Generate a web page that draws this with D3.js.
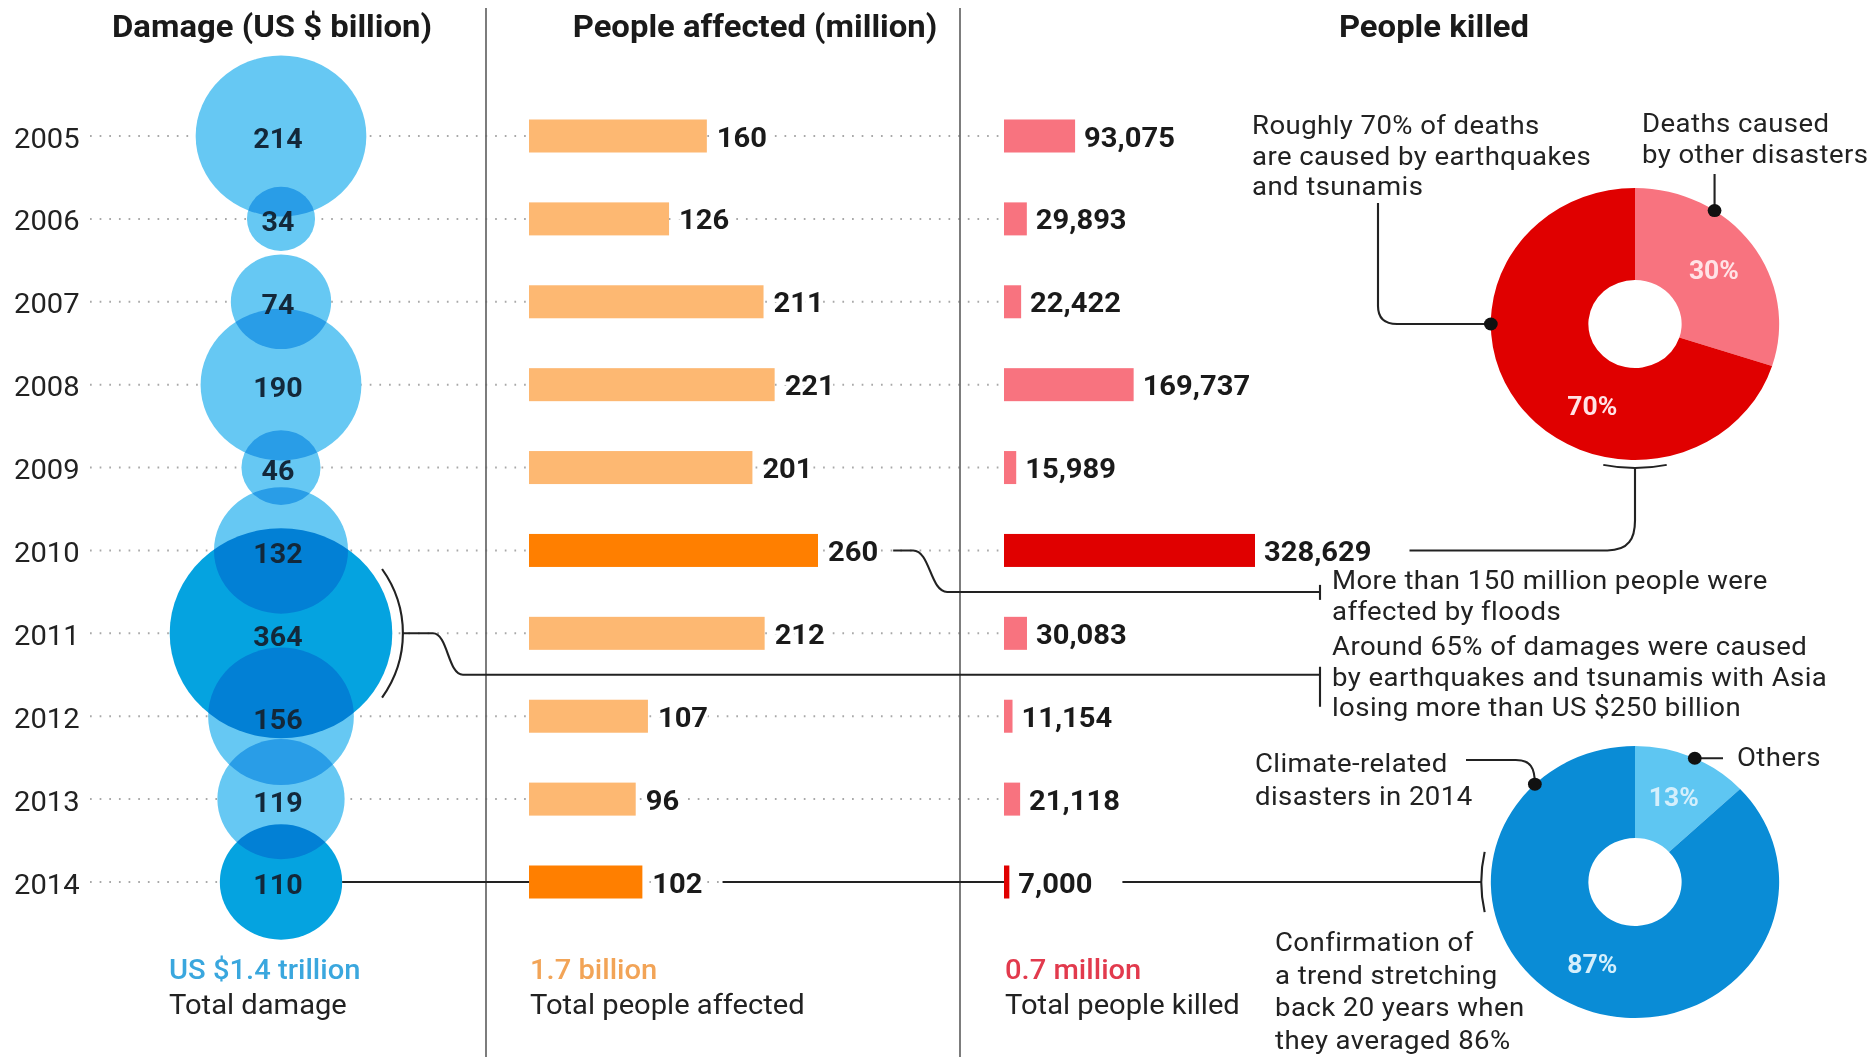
<!DOCTYPE html>
<html>
<head>
<meta charset="utf-8">
<script src="https://cdn.jsdelivr.net/npm/d3@7"></script>
<style>
  html, body { margin: 0; padding: 0; background: #fff; }
  svg { display: block; font-family: Roboto, "Noto Sans", sans-serif; }
</style>
</head>
<body>
<svg id="chart" width="1874" height="1057"></svg>
<script>
// ---- data ----
const years = [2005, 2006, 2007, 2008, 2009, 2010, 2011, 2012, 2013, 2014];
const damage = [214, 34, 74, 190, 46, 132, 364, 156, 119, 110];            // US $ billion
const affected = [160, 126, 211, 221, 201, 260, 212, 107, 96, 102];         // million people
const killed = [93075, 29893, 22422, 169737, 15989, 328629, 30083, 11154, 21118, 7000];
const damageHighlight = [2011, 2014];
const affectedHighlight = [2010, 2014];
const killedHighlight = [2010, 2014];

const deathShares = [30, 70];            // other disasters, earthquakes & tsunamis
const climateShares = [13, 87];          // others, climate-related (2014)

const columnTitles = ["Damage (US $ billion)", "People affected (million)", "People killed"];
const totalValues = ["US $1.4 trillion", "1.7 billion", "0.7 million"];
const totalLabels = ["Total damage", "Total people affected", "Total people killed"];

const notes = {
  deaths70: ["Roughly 70% of deaths", "are caused by earthquakes", "and tsunamis"],
  deaths30: ["Deaths caused", "by other disasters"],
  floods: ["More than 150 million people were", "affected by floods"],
  quakes: ["Around 65% of damages were caused", "by earthquakes and tsunamis with Asia", "losing more than US $250 billion"],
  climate: ["Climate-related", "disasters in 2014"],
  others: ["Others"],
  trend: ["Confirmation of", "a trend stretching", "back 20 years when", "they averaged 86%"]
};

// ---- layout ----
const W = 1874, H = 1057;
const SX = 1.06;                 // the whole graphic is drawn slightly wide
const X = v => v / SX;           // page px -> drawing units
const INK = "#222";
const TXT = 27.5;                // label text size
const NOTE = 26;                 // annotation text size

const svg = d3.select("#chart");
svg.append("rect").attr("width", W).attr("height", H).attr("fill", "#fff");
const root = svg.append("g").attr("transform", `scale(${SX},1)`);

const y = d3.scalePoint().domain(years).range([136, 882]);
const rScale = d3.scaleSqrt().domain([0, 364]).range([0, 105]);
const xAff = d3.scaleLinear().domain([0, 260]).range([0, X(289)]);
const xKill = d3.scaleLinear().domain([0, 328629]).range([0, X(251)]);

const bubbleX = X(281);
const affX0 = X(529);
const killX0 = X(1004);
const barH = 33;

const rows = years.map((yr, i) => ({
  year: yr, damage: damage[i], affected: affected[i], killed: killed[i]
}));

// dotted row guides
root.append("g").selectAll("line").data(rows).join("line")
  .attr("x1", X(90)).attr("x2", X(1000))
  .attr("y1", d => y(d.year)).attr("y2", d => y(d.year))
  .attr("stroke", "#a8a8a8").attr("stroke-width", 2)
  .attr("stroke-dasharray", "1.6,7.5");

// column dividers
root.append("g").selectAll("line").data([486, 960]).join("line")
  .attr("x1", d => X(d)).attr("x2", d => X(d))
  .attr("y1", 8).attr("y2", H)
  .attr("stroke", "#666").attr("stroke-width", 1.6);

// column titles
root.append("g").selectAll("text").data(columnTitles).join("text")
  .attr("x", (d, i) => X([272, 755, 1434][i]))
  .attr("y", 26).attr("dy", "0.35em")
  .attr("text-anchor", "middle")
  .attr("font-size", 31).attr("font-weight", 700).attr("fill", "#1a1a1a")
  .text(d => d);

// year labels
root.append("g").selectAll("text").data(rows).join("text")
  .attr("x", X(14)).attr("y", d => y(d.year) + 2).attr("dy", "0.35em")
  .attr("font-size", TXT).attr("fill", INK)
  .text(d => d.year);

// ---- damage bubbles ----
const bub = root.append("g");
bub.selectAll("circle.base").data(rows).join("circle")
  .attr("class", "base")
  .attr("cx", bubbleX).attr("cy", d => y(d.year)).attr("r", d => rScale(d.damage))
  .attr("fill", "#fff");
bub.selectAll("circle.ink").data(rows).join("circle")
  .attr("class", "ink")
  .attr("cx", bubbleX).attr("cy", d => y(d.year)).attr("r", d => rScale(d.damage))
  .attr("fill", d => damageHighlight.includes(d.year) ? "#05a3e0" : "#66c8f3")
  .style("mix-blend-mode", "multiply");
bub.selectAll("text").data(rows).join("text")
  .attr("x", X(278)).attr("y", d => y(d.year) + 3).attr("dy", "0.35em")
  .attr("text-anchor", "middle")
  .attr("font-size", 27).attr("font-weight", 700).attr("fill", "#13283a")
  .text(d => d.damage);

// ---- people affected bars ----
const aff = root.append("g");
aff.selectAll("rect").data(rows).join("rect")
  .attr("x", affX0).attr("y", d => y(d.year) - barH / 2)
  .attr("width", d => xAff(d.affected)).attr("height", barH)
  .attr("fill", d => affectedHighlight.includes(d.year) ? "#ff7f00" : "#fdb872");
const affLabels = aff.selectAll("text").data(rows).join("text")
  .attr("x", d => affX0 + xAff(d.affected) + X(10)).attr("y", d => y(d.year) + 1).attr("dy", "0.35em")
  .attr("font-size", TXT).attr("font-weight", 700).attr("fill", "#1a1a1a")
  .attr("stroke", "#fff").attr("stroke-width", 7).attr("paint-order", "stroke")
  .text(d => d.affected);

// ---- people killed bars ----
const kil = root.append("g");
kil.selectAll("rect").data(rows).join("rect")
  .attr("x", killX0).attr("y", d => y(d.year) - barH / 2)
  .attr("width", d => xKill(d.killed)).attr("height", barH)
  .attr("fill", d => killedHighlight.includes(d.year) ? "#e00000" : "#f8737f");
const killLabels = kil.selectAll("text").data(rows).join("text")
  .attr("x", d => killX0 + xKill(d.killed) + X(9)).attr("y", d => y(d.year) + 1).attr("dy", "0.35em")
  .attr("font-size", TXT).attr("font-weight", 700).attr("fill", "#1a1a1a")
  .text(d => d3.format(",")(d.killed));

// ---- totals ----
const totalX = [169, 530, 1005];
const totalColors = ["#3aa7de", "#f2a457", "#e23a4d"];
root.append("g").selectAll("text").data(totalValues).join("text")
  .attr("x", (d, i) => X(totalX[i])).attr("y", 969).attr("dy", "0.35em")
  .attr("font-size", TXT).attr("font-weight", 500).attr("fill", (d, i) => totalColors[i])
  .text(d => d);
root.append("g").selectAll("text").data(totalLabels).join("text")
  .attr("x", (d, i) => X(totalX[i])).attr("y", 1004).attr("dy", "0.35em")
  .attr("font-size", TXT).attr("fill", INK)
  .text(d => d);

// ---- donuts ----
const R_IN = 44, R_OUT = 136;
const pie = d3.pie().sort(null);
const arc = d3.arc().innerRadius(R_IN).outerRadius(R_OUT);
const edge = (cx, cy, deg, r = R_OUT) => {
  const a = deg * Math.PI / 180;
  return [cx + r * Math.sin(a), cy - r * Math.cos(a)];
};

function donut(cx, cy, values, colors, textColor) {
  const g = root.append("g").attr("transform", `translate(${cx},${cy})`);
  const arcs = pie(values);
  g.selectAll("path").data(arcs).join("path").attr("d", arc).attr("fill", (d, i) => colors[i]);
  g.selectAll("text").data(arcs).join("text")
    .attr("transform", d => {
      // big slice label sits in the lower-left of the ring
      const ang = (d.endAngle - d.startAngle) > Math.PI ? 206 * Math.PI / 180 : (d.startAngle + d.endAngle) / 2;
      const r = 92;
      return `translate(${r * Math.sin(ang)},${-r * Math.cos(ang)})`;
    })
    .attr("dy", "0.35em").attr("text-anchor", "middle")
    .attr("font-size", 25).attr("font-weight", 700).attr("fill", textColor)
    .text(d => d.data + "%");
  return arcs;
}

const redC = [X(1635), 324];
const blueC = [X(1635), y(2014)];
donut(redC[0], redC[1], deathShares, ["#f8737f", "#e00000"], "#ffe3e6");
donut(blueC[0], blueC[1], climateShares, ["#5ec6f2", "#0a8cd6"], "#d4effc");

// ---- connectors ----
const lineG = root.append("g").attr("fill", "none").attr("stroke", INK).attr("stroke-width", 2);

function bracket(cx, cy, R, midDeg, halfDeg) {
  const p = d3.path();
  const a0 = (midDeg - halfDeg) * Math.PI / 180, a1 = (midDeg + halfDeg) * Math.PI / 180;
  p.moveTo(cx + R * Math.cos(a0), cy + R * Math.sin(a0));
  p.arc(cx, cy, R, a0, a1);
  return p.toString();
}
function sCurve(x0, y0, x1, y1, bend) {
  const p = d3.path();
  p.moveTo(x0, y0);
  p.lineTo(bend[0], y0);
  const mx = (bend[0] + bend[1]) / 2;
  p.bezierCurveTo(mx, y0, mx, y1, bend[1], y1);
  p.lineTo(x1, y1);
  return p.toString();
}
const labelEnd = (sel, yr) => {
  const node = sel.filter(d => d.year === yr).node();
  return +node.getAttribute("x") + node.getComputedTextLength();
};

const noteX = X(1320);
const midRow = (a, b) => (y(a) + y(b)) / 2;

// 2010: floods note
{
  const x0 = labelEnd(affLabels, 2010) + X(15);
  const yA = midRow(2010, 2011);
  lineG.append("path").attr("d", sCurve(x0, y(2010), noteX, yA, [x0 + X(20), x0 + X(54)]));
  lineG.append("line").attr("x1", noteX).attr("x2", noteX).attr("y1", yA - 7).attr("y2", yA + 8);
}
// 2011: earthquake damage bracket
{
  const R = rScale(364) + 10;
  const cy = y(2011);
  lineG.append("path").attr("d", bracket(bubbleX, cy, R, 0, 34));
  const yA = midRow(2011, 2012);
  const x0 = bubbleX + R;
  lineG.append("path").attr("d", sCurve(x0, cy, noteX, yA, [x0 + X(30), x0 + X(60)]));
  lineG.append("line").attr("x1", noteX).attr("x2", noteX).attr("y1", yA - 8).attr("y2", yA + 32);
}
// 2010 deaths -> red donut
{
  const x0 = labelEnd(killLabels, 2010) + X(38);
  const yy = y(2010);
  const bx = redC[0], by = redC[1] + R_OUT + 8;
  const p = d3.path();
  p.moveTo(x0, yy);
  p.lineTo(bx - 26, yy);
  p.bezierCurveTo(bx - 6, yy, bx, yy - 12, bx, yy - 30);
  p.lineTo(bx, by);
  lineG.append("path").attr("d", p.toString());
  lineG.append("path").attr("d", bracket(redC[0], redC[1], R_OUT + 8, 90, 12));
}
// 2014 row line across all three columns to the blue donut
{
  const yy = y(2014);
  const bracketR = R_OUT + 9;
  const segs = [
    [bubbleX + rScale(110), affX0],
    [labelEnd(affLabels, 2014) + X(20), killX0],
    [labelEnd(killLabels, 2014) + X(30), blueC[0] - bracketR]
  ];
  segs.forEach(s => lineG.append("line").attr("x1", s[0]).attr("x2", s[1]).attr("y1", yy).attr("y2", yy));
  lineG.append("path").attr("d", bracket(blueC[0], blueC[1], bracketR, 180, 12));
}
// donut pointers
const dotG = root.append("g").attr("fill", "#111");
function dot(p) { dotG.append("circle").attr("cx", p[0]).attr("cy", p[1]).attr("r", 6.5); }
{
  const p70 = edge(redC[0], redC[1], 270);
  dot(p70);
  const cx = X(1378), r = 18;
  const p = d3.path();
  p.moveTo(p70[0], p70[1]);
  p.lineTo(cx + r, p70[1]);
  p.quadraticCurveTo(cx, p70[1], cx, p70[1] - r);
  p.lineTo(cx, 203);
  lineG.append("path").attr("d", p.toString());

  const p30 = edge(redC[0], redC[1], 33.5);
  dot(p30);
  lineG.append("line").attr("x1", p30[0]).attr("x2", p30[0]).attr("y1", p30[1]).attr("y2", 174);

  const pO = edge(blueC[0], blueC[1], 24.5);
  dot(pO);
  lineG.append("line").attr("x1", pO[0]).attr("x2", X(1723)).attr("y1", pO[1]).attr("y2", pO[1]);

  const pC = edge(blueC[0], blueC[1], 316);
  dot(pC);
  const q = d3.path();
  q.moveTo(X(1466), 760);
  q.lineTo(pC[0] - 18, 760);
  q.bezierCurveTo(pC[0] - 4, 760, pC[0], 768, pC[0], pC[1]);
  lineG.append("path").attr("d", q.toString());
}

// ---- annotation text ----
function note(lines, x, y0, lh, size = NOTE) {
  const t = root.append("text").attr("font-size", size).attr("fill", INK).attr("letter-spacing", 0.4);
  lines.forEach((s, i) => t.append("tspan").attr("x", X(x)).attr("y", y0 + i * lh).attr("dy", "0.35em").text(s));
}
note(notes.deaths70, 1252, 125, 30.5);
note(notes.deaths30, 1642, 123, 30.5);
note(notes.floods, 1332, 580, 30.5);
note(notes.quakes, 1332, 646, 30.5);
note(notes.climate, 1255, 763, 33);
note(notes.others, 1737, 757, 0);
note(notes.trend, 1275, 942, 32.5);
</script>
</body>
</html>
